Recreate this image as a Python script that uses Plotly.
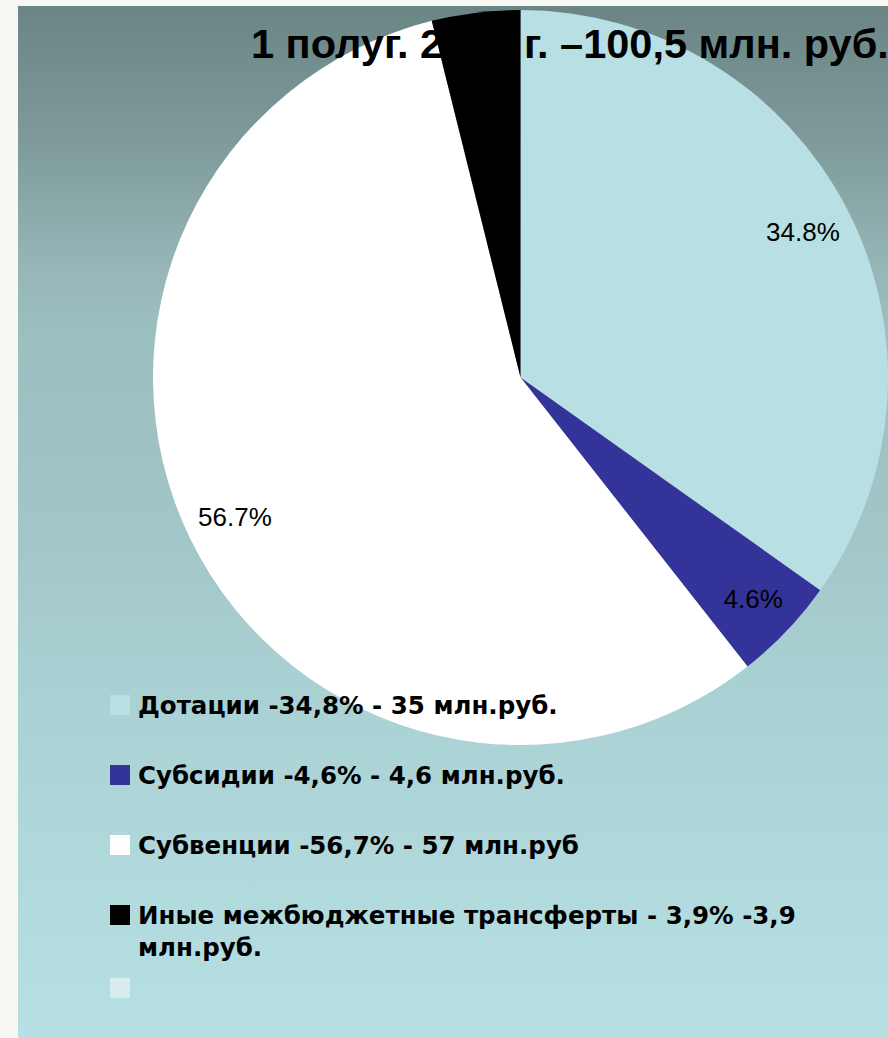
import plotly.graph_objects as go

W, H = 888, 1038

# data (млн. руб.)
labels = ["Дотации", "Субсидии", "Субвенции", "Иные межбюджетные трансферты", " "]
amounts = [35, 4.6, 57, 3.9, 0]
legend_texts = [
    "Дотации -34,8% - 35 млн.руб.",
    "Субсидии -4,6% - 4,6 млн.руб.",
    "Субвенции -56,7% - 57 млн.руб",
    "Иные межбюджетные трансферты - 3,9% -3,9<br>млн.руб.",
    "",
]
title_text = "1 полуг. 2014 г. –100,5 млн. руб."

# styles
colors = ["#b8dfe3", "#333399", "#ffffff", "#000000", "#d8ecee"]
background_scale = [
    [0.0, "#b7e0e4"],
    [0.30, "#abd3d6"],
    [0.49, "#a2c6c8"],
    [0.69, "#9bbebf"],
    [0.75, "#96b5b6"],
    [0.88, "#7c9898"],
    [1.0, "#6b8585"],
]


def px(x):
    return min(max(x / W, 0), 1)


def py(y):
    return min(max(1 - y / H, 0), 1)


fig = go.Figure()

# slide background panel with vertical gradient
fig.add_scatter(
    x=[px(18), 1, 1, px(18), px(18)],
    y=[0, 0, py(6), py(6), 0],
    mode="lines",
    line=dict(width=0),
    fill="toself",
    fillgradient=dict(type="vertical", colorscale=background_scale),
    hoverinfo="skip",
    showlegend=False,
)

cx, cy, r = 520.5, 377.5, 367.5
pie_domain = dict(x=[px(cx - r), px(cx + r)], y=[py(cy + r), py(cy - r)])

fig.add_pie(
    labels=labels,
    values=amounts,
    marker=dict(colors=colors, line=dict(width=0)),
    sort=False,
    direction="clockwise",
    rotation=0,
    textinfo="none",
    domain=pie_domain,
    showlegend=False,
)

# percent labels near the rim, drawn on a transparent ring
fig.add_pie(
    labels=labels,
    values=amounts,
    hole=0.73,
    marker=dict(colors=["rgba(0,0,0,0)"] * len(labels), line=dict(width=0)),
    sort=False,
    direction="clockwise",
    rotation=0,
    texttemplate=["%{percent:.1%}" if v > 0 else "" for v in amounts],
    textposition="inside",
    insidetextorientation="horizontal",
    textfont=dict(family="Liberation Sans", size=26, color="#000000"),
    domain=pie_domain,
    hoverinfo="skip",
    showlegend=False,
)

# title on top (its middle is black on the black slice), then the legend
shapes = []
annotations = [dict(
    xref="paper", yref="paper", x=px(249), y=py(44),
    xanchor="left", yanchor="middle",
    text=f"<b>{title_text}</b>", showarrow=False,
    font=dict(family="Liberation Sans", size=41.5, color="#000000"),
)]
for i, (text, color) in enumerate(zip(legend_texts, colors)):
    yc = 705 + 70 * i + (3 if i == 4 else 0)
    shapes.append(dict(
        type="rect", xref="paper", yref="paper",
        x0=px(110), x1=px(130), y0=py(yc + 10), y1=py(yc - 10),
        fillcolor=color, line=dict(width=0),
    ))
    if text:
        annotations.append(dict(
            xref="paper", yref="paper",
            x=px(136), y=py(yc - 16),
            xanchor="left", yanchor="top", align="left",
            text=f"<b>{text}</b>", showarrow=False,
            font=dict(family="DejaVu Sans", size=24.5, color="#000000"),
        ))

fig.update_layout(
    width=W,
    height=H,
    margin=dict(l=0, r=0, t=0, b=0),
    paper_bgcolor="#f7f8f3",
    plot_bgcolor="rgba(0,0,0,0)",
    xaxis=dict(range=[0, 1], visible=False, fixedrange=True, domain=[0, 1]),
    yaxis=dict(range=[0, 1], visible=False, fixedrange=True, domain=[0, 1]),
    shapes=shapes,
    annotations=annotations,
    showlegend=False,
)

fig.write_html(
    "out.html",
    config={"displayModeBar": False},
    post_script="document.body.style.margin = '0';",
)
